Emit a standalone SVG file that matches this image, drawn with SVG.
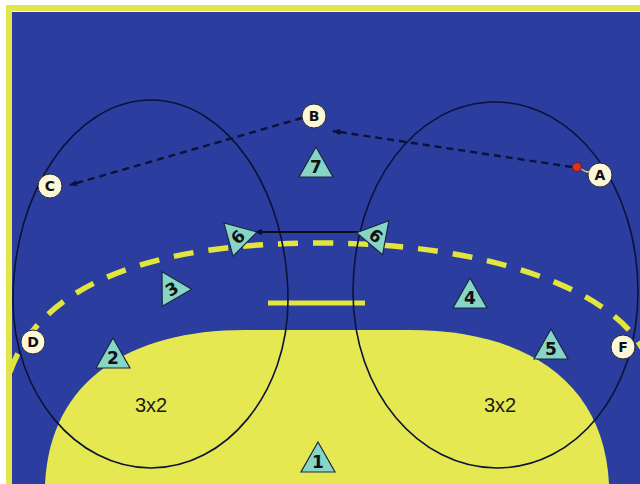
<svg xmlns="http://www.w3.org/2000/svg" width="640" height="484" viewBox="0 0 640 484">
<defs>
<style>
.bg{fill:#2b3e9f}
.frame{fill:none;stroke:#e3e64a;stroke-width:6}
.goal{fill:#e5e851}
.nine{fill:none;stroke:#e3e43c;stroke-width:5.5;stroke-dasharray:20 15}
.zone{fill:none;stroke:#0c1236;stroke-width:1.6}
.pass{fill:none;stroke:#0c1236;stroke-width:2.4;stroke-dasharray:7 5}
.move{fill:none;stroke:#0a0d20;stroke-width:1.8}
.tri{fill:#86d5c6;stroke:#1a2a40;stroke-width:1.2}
.tl{font-family:"DejaVu Sans",Verdana,sans-serif;font-weight:bold;font-size:17px;fill:#111;text-anchor:middle}
.ci{fill:#fbf7d8;stroke:#2a2a2a;stroke-width:1}
.cl{font-family:"DejaVu Sans",Verdana,sans-serif;font-weight:bold;font-size:14px;fill:#111;text-anchor:middle}
.big{font-family:"Liberation Sans",Arial,sans-serif;font-size:20px;fill:#1a1a1a;text-anchor:middle}
</style>
<path id="tri" d="M0,-20 L17,10 L-17,10 Z"/>
<marker id="arr" viewBox="0 0 10 8" refX="9" refY="4" markerWidth="8" markerHeight="6.4" markerUnits="userSpaceOnUse" orient="auto">
<path d="M0,0 L10,4 L0,8 Z" fill="#0c1236"/>
</marker>
</defs>
<rect width="640" height="484" fill="#ffffff"/>
<rect x="12" y="12" width="640" height="484" class="bg"/>
<path d="M9,490 V8 H650" class="frame"/>
<g id="court">
<path class="goal" d="M45,490 L45,484 C50,380 130,330 245,330 L409,330 C524,330 604,380 609,484 L609,490 Z"/>
<path class="nine" d="M10,372 C40,285 150,243 320,243 C490,243 610,290 642,348"/>
<line x1="268" y1="303" x2="365" y2="303" stroke="#e3e43c" stroke-width="5"/>
<path class="zone" d="M151,100 C226,100 288,190 288,300 C288,393 226,468 151,468 C76,468 13,393 13,300 C13,190 76,100 151,100 Z"/>
<path class="zone" d="M495,102 C574,102 638,185 638,292 C638,392 576,468 497,468 C419,468 353,392 353,292 C353,185 416,102 495,102 Z"/>
<text class="big" x="151" y="412">3x2</text>
<text class="big" x="500" y="412">3x2</text>
</g>
<g id="connectors">
<line class="pass" x1="572" y1="167" x2="333" y2="131" marker-end="url(#arr)"/>
<line class="pass" x1="302" y1="118" x2="70" y2="185" marker-end="url(#arr)"/>
<line class="move" x1="358" y1="232" x2="255" y2="232" marker-end="url(#arr)"/>
</g>
<g id="n7" transform="translate(316,167)"><use href="#tri" class="tri"/><text class="tl" y="6">7</text></g>
<g id="n4" transform="translate(470,298)"><use href="#tri" class="tri"/><text class="tl" y="6">4</text></g>
<g id="n5" transform="translate(551,349)"><use href="#tri" class="tri"/><text class="tl" y="6">5</text></g>
<g id="n2" transform="translate(113,358)"><use href="#tri" class="tri"/><text class="tl" y="6">2</text></g>
<g id="n1" transform="translate(318,462)"><use href="#tri" class="tri"/><text class="tl" y="6">1</text></g>
<g id="n3" transform="translate(172,289) rotate(-30)"><use href="#tri" class="tri"/><text class="tl" y="6">3</text></g>
<g id="n6a" transform="translate(238,237) rotate(-45)"><use href="#tri" class="tri"/><text class="tl" y="6">6</text></g>
<g id="n6b" transform="translate(376,236) rotate(40)"><use href="#tri" class="tri"/><text class="tl" y="6">6</text></g>
<g id="nB"><circle class="ci" cx="314" cy="116" r="12"/><text class="cl" x="314" y="121">B</text></g>
<g id="nA"><circle class="ci" cx="600" cy="175" r="12"/><text class="cl" x="600" y="180">A</text></g>
<g id="nC"><circle class="ci" cx="50" cy="186" r="12"/><text class="cl" x="50" y="191">C</text></g>
<g id="nD"><circle class="ci" cx="33" cy="342" r="12"/><text class="cl" x="33" y="347">D</text></g>
<g id="nF"><circle class="ci" cx="623" cy="347" r="12"/><text class="cl" x="623" y="352">F</text></g>
<g id="ball"><path d="M580,168 Q585,172 589,172" stroke="#d8d84a" stroke-width="1.5" fill="none"/><circle cx="577" cy="167" r="4.5" fill="#e03020" stroke="#6a1010" stroke-width="0.8"/></g>
</svg>
